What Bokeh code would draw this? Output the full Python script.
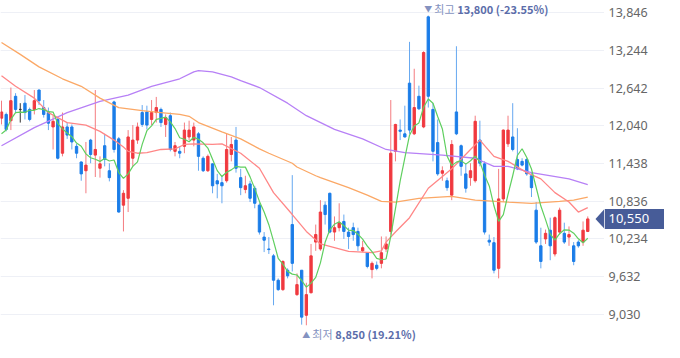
import numpy as np
import pandas as pd
from bokeh.plotting import figure
from bokeh.layouts import row
from bokeh.models import Range1d, FixedTicker, Grid
from bokeh.core.properties import value
from bokeh.embed import file_html
from bokeh.resources import INLINE

# ---------------- data ----------------
opens = [12160, 12220, 12120, 12510, 12300, 12400, 12300, 12300, 12610, 12330,
         12250, 12020, 12140, 11600, 12020, 12020, 11710, 11460, 11320, 11810,
         11570, 11360, 11720, 11320, 12420, 11830, 10770, 10880, 11520, 11810,
         12250, 12260, 12140, 12250, 12300, 12060, 12200, 11630, 11630, 11710,
         11860, 11810, 11910, 11520, 11320, 11430, 11160, 11130, 11160, 11580,
         11810, 11210, 11020, 11110, 11040, 10770, 10260, 10070, 9960, 9570,
         9420, 9730, 10460, 9340, 9730, 9010, 9370, 10180, 10070, 10770,
         10960, 10340, 10410, 10510, 10340, 10410, 10350, 10040, 10010, 9740,
         9810, 9840, 10070, 10350, 11630, 11970, 11910, 12720, 11910, 12510,
         12020, 13780, 12300, 11770, 11280, 11160, 10930, 12260, 11720, 11270,
         11210, 11160, 11810, 11430, 10210, 10170, 9760, 10870, 11750, 11860,
         11500, 11470, 11500, 11240, 10690, 10120, 10230, 10370, 9990, 10340,
         10320, 10260, 10120, 10180, 10180, 10350]
highs = [12440, 12250, 12650, 12560, 12400, 12530, 12330, 12610, 12620, 12450,
         12330, 12200, 12170, 12250, 12090, 12060, 11750, 11470, 11780, 11830,
         12610, 11550, 11910, 11440, 12440, 11860, 11010, 11970, 12050, 12090,
         12370, 12360, 12450, 12500, 12330, 12220, 12250, 11780, 11710, 12090,
         12120, 12090, 11940, 11550, 11580, 11440, 11270, 11240, 11910, 11860,
         12020, 11350, 11240, 11160, 11080, 10800, 10340, 10260, 9990, 9600,
         9890, 9760, 11250, 9680, 9730, 9530, 10150, 10460, 10850, 10830,
         10970, 10590, 10800, 10620, 10410, 10490, 10410, 10200, 10020, 9870,
         9870, 10270, 10270, 12450, 12070, 12140, 12360, 13380, 12950, 12680,
         13230, 13800, 12400, 12140, 11390, 11210, 11810, 13310, 11740, 11440,
         11440, 12200, 12120, 11470, 10300, 10260, 11350, 11980, 12200, 12400,
         12000, 11520, 11520, 11290, 10820, 10410, 10380, 10570, 10590, 10730,
         10490, 10430, 10180, 10210, 10510, 10590]
lows = [12060, 11950, 11970, 12250, 12090, 12140, 12110, 12220, 12370, 12170,
        11970, 11660, 11500, 11550, 11830, 11660, 11520, 11160, 10960, 11440,
        11220, 11210, 11390, 11150, 11610, 10650, 10350, 10660, 11390, 11750,
        12020, 11980, 12050, 12090, 12020, 11860, 11630, 11550, 11520, 11600,
        11810, 11710, 11320, 11300, 11300, 10960, 10880, 10800, 11130, 11470,
        11290, 10930, 10960, 10820, 10720, 10300, 10020, 9990, 9170, 9400,
        9400, 9600, 9710, 9320, 8860, 8850, 9360, 10040, 10040, 10460,
        10320, 10200, 10350, 10230, 10070, 10200, 10040, 10020, 9760, 9600,
        9730, 9760, 10020, 10300, 11470, 11810, 11850, 11910, 11890, 12290,
        12000, 12330, 11470, 11240, 11160, 11000, 10850, 11890, 11240, 10970,
        11080, 11130, 11390, 10300, 10120, 9680, 9600, 10820, 11700, 11630,
        11330, 11390, 11240, 10900, 10150, 9760, 10150, 9890, 9950, 10300,
        10150, 10120, 9810, 10090, 10120, 10340]
closes = [12260, 11980, 12440, 12300, 12300, 12250, 12140, 12440, 12440, 12220,
          12080, 12110, 11520, 12020, 11890, 11780, 11600, 11270, 11410, 11580,
          11660, 11430, 11500, 11210, 11660, 10660, 10960, 11860, 11810, 12020,
          12060, 12050, 12250, 12330, 12090, 12170, 11660, 11720, 11600, 11970,
          11970, 12020, 11550, 11320, 11550, 11080, 11110, 11080, 11660, 11740,
          11360, 11050, 11080, 10880, 10800, 10340, 10210, 10060, 9570, 9420,
          9870, 9640, 9840, 9500, 8980, 9340, 9960, 10300, 10660, 10620,
          10340, 10410, 10490, 10350, 10270, 10300, 10120, 10090, 9790, 9840,
          9760, 10010, 10150, 11600, 12060, 11950, 11860, 11970, 12330, 12310,
          13210, 12510, 11630, 11270, 11320, 11050, 11740, 11910, 11390, 11040,
          11320, 12110, 11440, 10340, 10180, 9730, 10870, 11970, 11970, 11660,
          11350, 11410, 11270, 11050, 10180, 9870, 10320, 10120, 10570, 10690,
          10180, 10300, 9870, 10120, 10370, 10550]

# 5-day average for the first four sessions (needs earlier closes)
ma5_lead = [11910, 11970, 12140, 12250]

ma20_idx = [0, 3, 7, 10, 14, 18, 21, 24, 26, 27, 29, 31, 34, 37, 39, 41, 45, 47,
            51, 55, 58, 62, 65, 68, 74, 79, 81, 82, 84, 87, 91, 96, 100, 102,
            105, 108, 112, 115, 118, 121, 123, 125]
ma20_val = [12840, 12670, 12480, 12250, 12090, 12050, 11950, 11810, 11700, 11630,
            11600, 11610, 11660, 11670, 11740, 11750, 11740, 11750, 11600, 11360,
            10970, 10620, 10350, 10150, 10030, 10010, 10040, 10180, 10340, 10570,
            11040, 11350, 11660, 11810, 11550, 11470, 11290, 11190, 10970, 10820,
            10660, 10730]

ma60_idx = [0, 4, 8, 13, 17, 21, 25, 30, 34, 38, 40, 42, 47, 51, 55, 57, 62, 63,
            67, 68, 74, 78, 81, 84, 89, 96, 101, 108, 113, 119, 122, 125]
ma60_val = [13370, 13180, 12980, 12790, 12670, 12480, 12330, 12280, 12250, 12220,
            12190, 12090, 11940, 11830, 11670, 11600, 11440, 11380, 11240, 11210,
            11050, 10930, 10830, 10820, 10880, 10910, 10850, 10820, 10800, 10830,
            10850, 10900]

ma120_idx = [0, 7, 14, 21, 27, 32, 34, 38, 41, 42, 45, 49, 51, 55, 61, 65, 71,
             77, 82, 86, 94, 101, 105, 108, 113, 121, 125]
ma120_val = [11720, 12010, 12250, 12430, 12530, 12670, 12710, 12790, 12900, 12920,
             12900, 12820, 12760, 12650, 12400, 12200, 11980, 11830, 11660, 11610,
             11570, 11520, 11390, 11390, 11290, 11190, 11100]

y_ticks = [9030, 9632, 10234, 10836, 11438, 12040, 12642, 13244, 13846]

# ---------------- derived ----------------
n = len(closes)
idx = np.arange(n)
o = np.array(opens, dtype=float)
h = np.array(highs, dtype=float)
l = np.array(lows, dtype=float)
c = np.array(closes, dtype=float)

UP, DOWN, FLAT = "#f0393f", "#1b7de8", "#333333"
UP_W, DOWN_W = "#f47c80", "#66a8f0"
up = c > o
down = c < o
body_color = np.where(up, UP, np.where(down, DOWN, FLAT)).tolist()
wick_color = np.where(up, UP_W, np.where(down, DOWN_W, FLAT)).tolist()

ma5 = pd.Series(c).rolling(5).mean().to_numpy()
ma5[:4] = ma5_lead

# ---------------- layout constants ----------------
FIG_H = 342
MAIN_W = 604
SIDE_W = 60
PX_BAR = 4.69
X_START = -1 / PX_BAR
X_END = X_START + MAIN_W / PX_BAR
Y_START, Y_END = 8575, 14041
UNITS_PER_PX = (Y_END - Y_START) / FIG_H
yr = Range1d(Y_START, Y_END)


def bare_figure(width, xr):
    f = figure(width=width, height=FIG_H, output_backend="svg", toolbar_location=None,
               x_range=xr, y_range=yr, x_axis_location=None, y_axis_location=None,
               min_border=0)
    f.center = [r for r in f.center if not isinstance(r, Grid)]
    f.outline_line_color = None
    f.background_fill_color = "white"
    f.border_fill_color = "white"
    return f


p = bare_figure(MAIN_W, Range1d(X_START, X_END))
p.add_layout(Grid(dimension=1, ticker=FixedTicker(ticks=y_ticks),
                  grid_line_color="#eef0f6", grid_line_width=1))

# candles
p.segment(x0=idx, y0=h, x1=idx, y1=l, line_color=wick_color, line_width=1)
p.vbar(x=idx, top=np.maximum(o, c), bottom=np.minimum(o, c), width=0.5,
       fill_color=body_color, line_color=body_color, line_width=1)

# moving averages
p.line(ma120_idx, ma120_val, line_color="#b780f6", line_width=1.3)
p.line(ma60_idx, ma60_val, line_color="#fba866", line_width=1.3)
p.line(ma20_idx, ma20_val, line_color="#ff8787", line_width=1.3)
p.line(idx, ma5, line_color="#5fcf5f", line_width=1.2)

# high / low markers
last = closes[-1]
hi_i = int(np.argmax(h))
lo_i = int(np.argmin(l))
hi_v = h[hi_i]
lo_v = l[lo_i]
hi_pct = (last - hi_v) / hi_v * 100
lo_pct = (last - lo_v) / lo_v * 100

LIGHT, BOLD = "#8492c0", "#5b6daa"
KFONT = value("Noto Sans CJK KR")


def marker(i, v, arrow, word, num, dy):
    p.text(x=[i], y=[v], text=[arrow], x_offset=0, y_offset=dy,
           text_font=KFONT, text_font_size="8px", text_color=LIGHT,
           text_align="center", text_baseline="middle")
    p.text(x=[i], y=[v], text=[word], x_offset=6, y_offset=dy,
           text_font=KFONT, text_font_size="11px", text_color=LIGHT,
           text_align="left", text_baseline="middle")
    p.text(x=[i], y=[v], text=[num], x_offset=29, y_offset=dy,
           text_font=KFONT, text_font_size="11px", text_font_style="bold",
           text_color=BOLD, text_align="left", text_baseline="middle")


marker(hi_i, hi_v, "▼", "최고", f"{hi_v:,.0f} ({hi_pct:.2f}%)", -7)
marker(lo_i, lo_v, "▲", "최저", f"{lo_v:,.0f} ({lo_pct:.2f}%)", 9)

# current price tag: arrow tip inside the chart panel
BOX = "#475c98"
half = 10 * UNITS_PER_PX
tip_x = X_START + 595 / PX_BAR
p.patch(x=[tip_x, X_END, X_END], y=[last, last + half, last - half],
        fill_color=BOX, line_color=None)

# ---------------- price scale panel ----------------
side = bare_figure(SIDE_W, Range1d(0, SIDE_W))
side.text(x=[4] * len(y_ticks), y=y_ticks, text=[f"{t:,}" for t in y_ticks],
          text_font=value("Noto Sans"), text_font_size="12.5px", text_color="#666666",
          text_align="left", text_baseline="middle")
side.quad(left=[0], right=[SIDE_W], top=[last + half], bottom=[last - half],
          fill_color=BOX, line_color=None)
side.text(x=[4], y=[last], text=[f"{last:,}"], text_font=value("Noto Sans"),
          text_font_size="13px", text_color="white",
          text_align="left", text_baseline="middle")

layout = row(p, side, spacing=0)
open("out.html", "w").write(file_html(layout, INLINE))
